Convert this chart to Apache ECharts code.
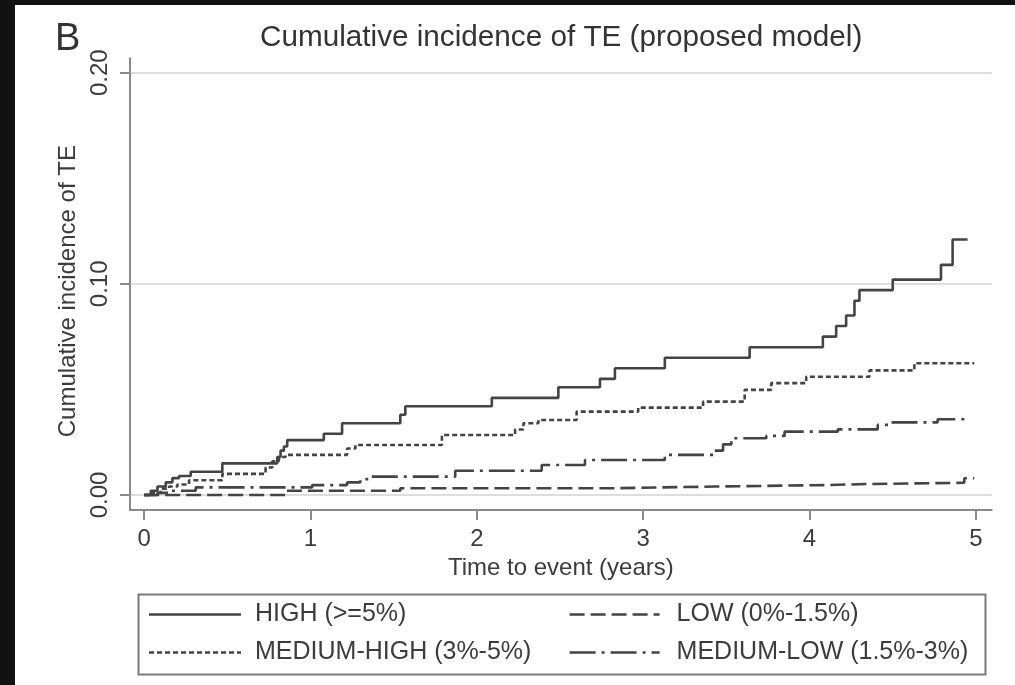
<!DOCTYPE html>
<html>
<head>
<meta charset="utf-8">
<script src="https://cdn.jsdelivr.net/npm/echarts@6/dist/echarts.min.js"></script>
<style>
  html, body { margin: 0; padding: 0; background: #111; width: 1015px; height: 685px; overflow: hidden; }
  #chart { position: absolute; left: 15px; top: 5px; width: 1000px; height: 680px; background: #fff; }
</style>
</head>
<body>
<div id="chart"></div>
<script>
// ---- Data ----
const xTicks = [0, 1, 2, 3, 4, 5];
const yTicks = [0, 0.1, 0.2];
const seriesNames = ['HIGH (>=5%)', 'LOW (0%-1.5%)', 'MEDIUM-HIGH (3%-5%)', 'MEDIUM-LOW (1.5%-3%)'];

const highTime  = [0, 0.04, 0.08, 0.13, 0.17, 0.21, 0.28, 0.47, 0.80, 0.82, 0.84, 0.86, 1.08, 1.19, 1.54, 1.57, 2.09, 2.49, 2.74, 2.83, 3.13, 3.64, 4.08, 4.16, 4.22, 4.27, 4.30, 4.50, 4.79, 4.86, 4.95];
const highValue = [0, 0.002, 0.004, 0.006, 0.008, 0.009, 0.011, 0.015, 0.018, 0.021, 0.023, 0.026, 0.029, 0.034, 0.038, 0.042, 0.046, 0.051, 0.055, 0.060, 0.065, 0.070, 0.075, 0.080, 0.085, 0.092, 0.097, 0.102, 0.109, 0.121, 0.121];

const medHighTime  = [0, 0.05, 0.10, 0.15, 0.20, 0.27, 0.47, 0.73, 0.77, 0.81, 0.85, 1.22, 1.27, 1.79, 2.23, 2.28, 2.37, 2.60, 2.97, 3.36, 3.61, 3.77, 3.98, 4.36, 4.63, 4.99];
const medHighValue = [0, 0.001, 0.003, 0.004, 0.005, 0.007, 0.010, 0.013, 0.016, 0.018, 0.019, 0.022, 0.0237, 0.0284, 0.031, 0.034, 0.0355, 0.0395, 0.0414, 0.0442, 0.0498, 0.053, 0.056, 0.059, 0.0624, 0.0624];

const medLowTime  = [0, 0.08, 0.15, 0.31, 1.01, 1.22, 1.30, 1.35, 1.87, 2.39, 2.65, 3.13, 3.43, 3.48, 3.53, 3.74, 3.85, 4.17, 4.41, 4.49, 4.77, 4.96];
const medLowValue = [0, 0.001, 0.002, 0.0036, 0.0047, 0.006, 0.0075, 0.0087, 0.0115, 0.0142, 0.0166, 0.019, 0.021, 0.024, 0.0269, 0.028, 0.030, 0.0311, 0.0332, 0.0344, 0.0359, 0.0359];

const lowTime  = [0, 0.85, 1.54, 2.81, 3.43, 4.09, 4.35, 4.93, 4.99];
const lowValue = [0, 0.002, 0.0032, 0.004, 0.0047, 0.0052, 0.0058, 0.0079, 0.0079];

// ---- Build chart ----
const pairs = (t, v) => t.map((x, i) => [x, v[i]]);
const FONT = '"Liberation Sans", Arial, Helvetica, sans-serif';
const LINE = '#444444';
const TEXT = '#3c3c3c';
const AXIS = '#8a8a8a';

function mkSeries(name, data, dash) {
  return {
    name: name, type: 'line', step: 'end', data: data,
    symbol: 'none', showSymbol: false, animation: false,
    itemStyle: { color: LINE },
    lineStyle: { color: LINE, width: 2.6, type: dash, cap: 'butt' },
    emphasis: { disabled: true }
  };
}

const legendBase = {
  orient: 'vertical', top: 597, padding: 0, itemHeight: 14, itemGap: 13, selectedMode: false,
  itemStyle: { opacity: 0, borderWidth: 0 },
  lineStyle: { width: 2.6 }
};

const chart = echarts.init(document.getElementById('chart'), null, { renderer: 'canvas' });
chart.setOption({
  backgroundColor: '#fff',
  animation: false,
  textStyle: { fontFamily: FONT },
  title: [
    { text: 'B', left: 40, top: 16, padding: 0, textStyle: { fontFamily: FONT, fontSize: 38, fontWeight: 'normal', color: '#333' } },
    { text: 'Cumulative incidence of TE (proposed model)', left: 245, top: 18, padding: 0,
      textStyle: { fontFamily: FONT, fontSize: 29.7, fontWeight: 'normal', color: '#333' } }
  ],
  grid: { left: 115, right: 23.3, top: 53.3, bottom: 175, containLabel: false },
  xAxis: {
    type: 'value', min: -0.085, max: 5.095,
    name: 'Time to event (years)', nameLocation: 'middle', nameGap: 42,
    nameTextStyle: { fontFamily: FONT, fontSize: 24, color: TEXT },
    axisLine: { onZero: false, lineStyle: { color: AXIS, width: 2 } },
    axisTick: { show: true, length: 10, customValues: xTicks, lineStyle: { color: AXIS, width: 2 } },
    axisLabel: { customValues: xTicks, margin: 17, fontSize: 24, color: TEXT, fontFamily: FONT },
    splitLine: { show: false }
  },
  yAxis: {
    type: 'value', min: -0.0071, max: 0.2068,
    name: 'Cumulative incidence of TE', nameLocation: 'middle', nameGap: 40, nameRotate: 90,
    nameTextStyle: { fontFamily: FONT, fontSize: 24, color: TEXT, padding: [0, 14, 0, 0] },
    axisLine: { show: true, onZero: false, lineStyle: { color: AXIS, width: 2 } },
    axisTick: { show: true, length: 10, customValues: yTicks, lineStyle: { color: AXIS, width: 2 } },
    axisLabel: { customValues: yTicks, rotate: 90, margin: 18, fontSize: 24, color: TEXT, fontFamily: FONT,
      formatter: v => v.toFixed(2) },
    splitLine: { show: true, customValues: yTicks, lineStyle: { color: '#dedede', width: 2 } }
  },
  legend: [
    Object.assign({}, legendBase, { data: [seriesNames[0], seriesNames[2]], left: 132.7, itemWidth: 92,
      textStyle: { fontFamily: FONT, fontSize: 25, color: TEXT, padding: [0, 0, 0, 9] } }),
    Object.assign({}, legendBase, { data: [seriesNames[1], seriesNames[3]], left: 553.3, itemWidth: 90,
      textStyle: { fontFamily: FONT, fontSize: 25, color: TEXT, padding: [0, 0, 0, 12] } })
  ],
  graphic: [
    { type: 'rect', left: 121, top: 587, z: -1, silent: true,
      shape: { width: 847, height: 80 }, style: { fill: 'none', stroke: '#7a7a7a', lineWidth: 2 } }
  ],
  series: [
    mkSeries(seriesNames[0], pairs(highTime, highValue), 'solid'),
    mkSeries(seriesNames[1], pairs(lowTime, lowValue), [15, 6]),
    mkSeries(seriesNames[2], pairs(medHighTime, medHighValue), [5, 3]),
    mkSeries(seriesNames[3], pairs(medLowTime, medLowValue), [26, 6, 3, 6])
  ]
});
</script>
</body>
</html>
